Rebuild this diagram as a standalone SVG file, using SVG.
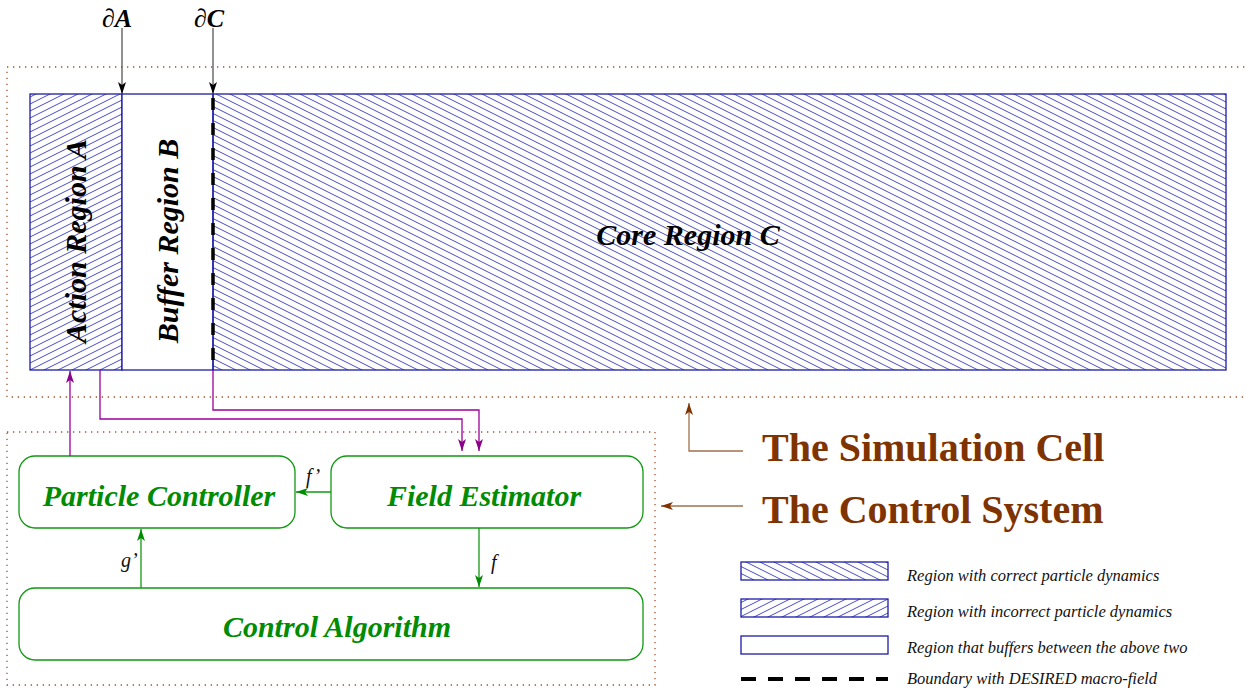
<svg xmlns="http://www.w3.org/2000/svg" width="1246" height="692" viewBox="0 0 1246 692">
<style>
.dot{fill:none;stroke:#a0522d;stroke-width:1.3;stroke-dasharray:1.3 4.7}
.reg{stroke:#1c1ca8;stroke-width:1.3}
.box{fill:#fff;stroke:#119911;stroke-width:1.3}
.lbl{font-family:"Liberation Serif",serif;font-style:italic;font-weight:bold;font-size:30px;text-anchor:middle}
.g{fill:#008c00}
.big{font-family:"Liberation Serif",serif;font-weight:bold;font-size:40px;fill:#7f3300}
.leg{font-family:"Liberation Serif",serif;font-style:italic;font-size:16.5px;fill:#111}
.sm{font-family:"Liberation Serif",serif;font-style:italic;font-size:20px;fill:#111}
.pur{fill:none;stroke:#9b009b;stroke-width:1.3}
.grn{fill:none;stroke:#119911;stroke-width:1.3}
.blk{fill:none;stroke:#555;stroke-width:1.3}
.brn{fill:none;stroke:#a0704d;stroke-width:1.3}
</style>
<defs>
<pattern id="hC" patternUnits="userSpaceOnUse" width="14" height="7">
<path d="M-1,-0.5 L15,7.5 M-15,-0.5 L1,7.5 M13,-0.5 L29,7.5" stroke="#3434c0" stroke-width="0.9"/>
</pattern>
<pattern id="hA" patternUnits="userSpaceOnUse" width="14" height="7">
<path d="M-1,7.5 L15,-0.5 M-15,7.5 L1,-0.5 M13,7.5 L29,-0.5" stroke="#3434c0" stroke-width="0.9"/>
</pattern>
<marker id="mK" markerUnits="userSpaceOnUse" markerWidth="14" markerHeight="10" refX="12" refY="4" orient="auto"><path d="M0,0 L12,4 L0,8 L3,4 z" fill="#000"/></marker>
<marker id="mP" markerUnits="userSpaceOnUse" markerWidth="14" markerHeight="10" refX="12" refY="4" orient="auto"><path d="M0,0 L12,4 L0,8 L3,4 z" fill="#8b008b"/></marker>
<marker id="mG" markerUnits="userSpaceOnUse" markerWidth="14" markerHeight="10" refX="12" refY="4" orient="auto"><path d="M0,0 L12,4 L0,8 L3,4 z" fill="#008c00"/></marker>
<marker id="mB" markerUnits="userSpaceOnUse" markerWidth="14" markerHeight="10" refX="12" refY="4" orient="auto"><path d="M0,0 L12,4 L0,8 L3,4 z" fill="#7f3300"/></marker>
</defs>
<rect width="1246" height="692" fill="#fff"/>

<g id="simulation-cell">
<rect class="dot" x="7" y="67" width="1245" height="330"/>
</g>
<g id="control-system">
<rect class="dot" x="7" y="432" width="648" height="253"/>
</g>

<g id="action-region">
<rect class="reg" x="30" y="94" width="92" height="276" fill="url(#hA)"/>
<text class="lbl" transform="translate(86,241) rotate(-90)">Action Region A</text>
</g>
<g id="buffer-region">
<rect class="reg" x="122" y="94" width="91" height="276" fill="#fff"/>
<text class="lbl" transform="translate(178,241) rotate(-90)">Buffer Region B</text>
</g>
<g id="core-region">
<rect class="reg" x="213" y="94" width="1013" height="276" fill="url(#hC)"/>
<line x1="213" y1="96" x2="213" y2="370" stroke="#000" stroke-width="3.5" stroke-dasharray="12 13" stroke-dashoffset="-2"/>
<text class="lbl" x="688" y="245">Core Region C</text>
</g>

<g id="particle-controller">
<rect class="box" x="19" y="456" width="276" height="72" rx="16"/>
<text class="lbl g" x="159" y="506">Particle Controller</text>
</g>
<g id="field-estimator">
<rect class="box" x="331" y="456" width="312" height="72" rx="16"/>
<text class="lbl g" x="484" y="506">Field Estimator</text>
</g>
<g id="control-algorithm">
<rect class="box" x="19" y="588" width="624" height="72" rx="16"/>
<text class="lbl g" x="337" y="637">Control Algorithm</text>
</g>

<g id="labels">
<text class="big" x="762" y="461">The Simulation Cell</text>
<text class="big" x="762" y="523">The Control System</text>
<text x="102" y="27" style="font-family:'Liberation Serif',serif;font-size:26px;fill:#000">∂<tspan style="font-style:italic;font-weight:bold">A</tspan></text>
<text x="194" y="27" style="font-family:'Liberation Serif',serif;font-size:26px;fill:#000">∂<tspan style="font-style:italic;font-weight:bold">C</tspan></text>
<text class="sm" x="306" y="483">f’</text>
<text class="sm" x="491" y="569">f</text>
<text class="sm" x="121" y="567">g’</text>
</g>

<g id="connectors">
<line class="blk" x1="122" y1="28" x2="122" y2="94" marker-end="url(#mK)"/>
<line class="blk" x1="213" y1="28" x2="213" y2="94" marker-end="url(#mK)"/>
<line class="pur" x1="70" y1="456" x2="70" y2="371" marker-end="url(#mP)"/>
<polyline class="pur" points="100,370 100,419 462,419 462,451" marker-end="url(#mP)"/>
<polyline class="pur" points="213,370 213,410 479,410 479,451" marker-end="url(#mP)"/>
<line class="grn" x1="331" y1="492" x2="296" y2="492" marker-end="url(#mG)"/>
<line class="grn" x1="479" y1="528" x2="479" y2="587" marker-end="url(#mG)"/>
<line class="grn" x1="141" y1="588" x2="141" y2="529" marker-end="url(#mG)"/>
<polyline class="brn" points="743,451 689,451 689,403" marker-end="url(#mB)"/>
<line class="brn" x1="743" y1="506" x2="661" y2="506" marker-end="url(#mB)"/>
</g>

<g id="legend">
<rect class="reg" x="741" y="562" width="147" height="18" fill="url(#hC)"/>
<rect class="reg" x="741" y="599" width="147" height="18" fill="url(#hA)"/>
<rect class="reg" x="741" y="636" width="147" height="18" fill="#fff"/>
<line x1="741" y1="679" x2="888" y2="679" stroke="#000" stroke-width="4" stroke-dasharray="15 12"/>
<text class="leg" x="907" y="581">Region with correct particle dynamics</text>
<text class="leg" x="907" y="617">Region with incorrect particle dynamics</text>
<text class="leg" x="907" y="653">Region that buffers between the above two</text>
<text class="leg" x="907" y="684">Boundary with DESIRED macro-field</text>
</g>
</svg>
